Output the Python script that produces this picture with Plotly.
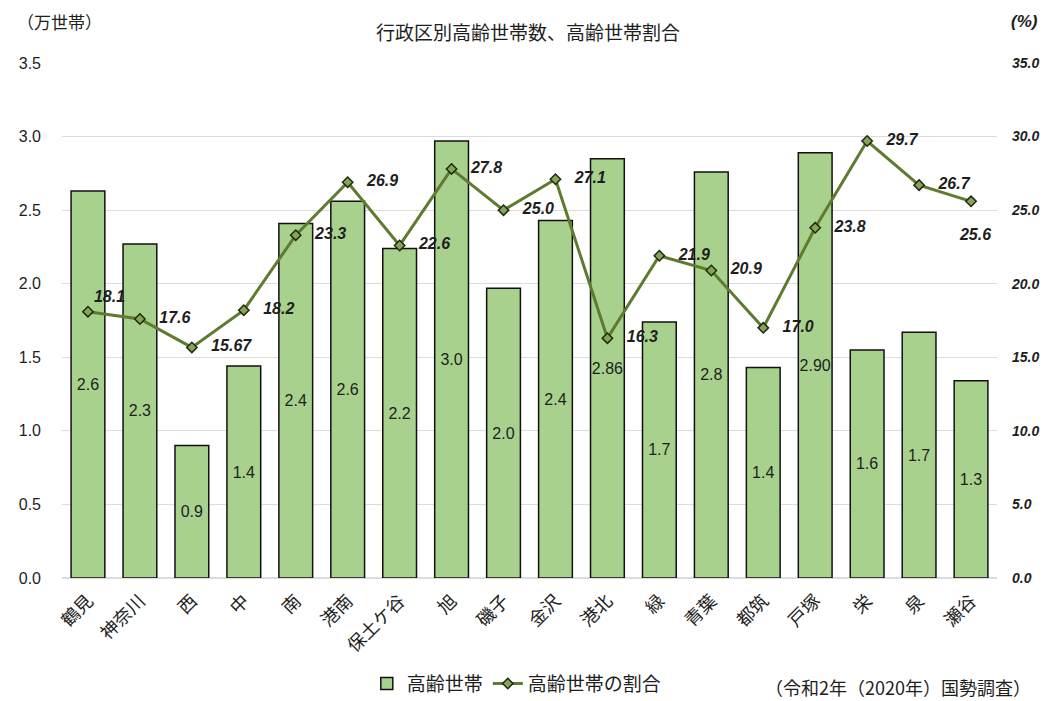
import plotly.graph_objects as go

wards = ["鶴見", "神奈川", "西", "中", "南", "港南", "保土ケ谷", "旭", "磯子", "金沢",
         "港北", "緑", "青葉", "都筑", "戸塚", "栄", "泉", "瀬谷"]
households = [2.63, 2.27, 0.90, 1.44, 2.41, 2.56, 2.24, 2.97, 1.97, 2.43,
              2.85, 1.74, 2.76, 1.43, 2.89, 1.55, 1.67, 1.34]
household_labels = ["2.6", "2.3", "0.9", "1.4", "2.4", "2.6", "2.2", "3.0", "2.0", "2.4",
                    "2.86", "1.7", "2.8", "1.4", "2.90", "1.6", "1.7", "1.3"]
ratio = [18.1, 17.6, 15.67, 18.2, 23.3, 26.9, 22.6, 27.8, 25.0, 27.1,
         16.3, 21.9, 20.9, 17.0, 23.8, 29.7, 26.7, 25.6]
ratio_labels = ["18.1", "17.6", "15.67", "18.2", "23.3", "26.9", "22.6", "27.8", "25.0", "27.1",
                "16.3", "21.9", "20.9", "17.0", "23.8", "29.7", "26.7", "25.6"]
ratio_textpos = ["top right"] + ["middle right"] * 16 + ["bottom center"]
left_ticks = [0.0, 0.5, 1.0, 1.5, 2.0, 2.5, 3.0, 3.5]
right_ticks = [0, 5, 10, 15, 20, 25, 30, 35]

FONT = "Noto Sans CJK JP"
NUMFONT = "Liberation Sans"
INK = "#1e1e1e"

pad = "\u00a0\u00a0\u00a0"
ratio_text = []
for t, p in zip(ratio_labels, ratio_textpos):
    if p == "middle right":
        ratio_text.append(pad + t)
    elif p == "bottom center":
        ratio_text.append("\u00a0<br>\u00a0\u00a0" + t)
    else:
        ratio_text.append(t)

fig = go.Figure()
fig.add_trace(go.Bar(
    x=wards, y=households, name="高齢世帯",
    text=household_labels, textposition="inside", insidetextanchor="middle",
    textangle=0, constraintext="none",
    textfont=dict(family=NUMFONT, size=16, color=INK),
    marker=dict(color="#a9d18e", line=dict(color="#111111", width=1.5)),
    width=0.65, yaxis="y",
))
fig.add_trace(go.Scatter(
    x=wards, y=ratio, name="高齢世帯の割合", yaxis="y2",
    mode="lines+markers+text",
    text=ratio_text, textposition=ratio_textpos,
    textfont=dict(family=NUMFONT, size=16, color=INK, style="italic", weight="bold"),
    line=dict(color="#5e7b2f", width=3),
    marker=dict(symbol="diamond", size=8, color="#87a556",
                line=dict(color="#1f2a10", width=1.5)),
))

# page body has an 8px margin, so the figure is drawn 8px in from the top-left
fig.update_layout(
    width=1040, height=693,
    margin=dict(l=54, r=51, t=55, b=123),
    paper_bgcolor="white", plot_bgcolor="white",
    font=dict(family=FONT, color=INK),
    showlegend=True,
    legend=dict(orientation="h", xref="container", yref="container",
                x=0.345, y=0.025, xanchor="left", yanchor="middle",
                font=dict(size=19, family=FONT, color=INK), traceorder="normal",
                bgcolor="rgba(0,0,0,0)"),
    xaxis=dict(range=[-0.5, 17.5], tickangle=-45,
               tickfont=dict(size=18, family=FONT, color=INK),
               showgrid=False, showline=False, ticks="", automargin=False,
               ticklabelstandoff=8),
    yaxis=dict(range=[0, 3.5], tickvals=left_ticks, tickformat=".1f",
               tickfont=dict(size=16, family=NUMFONT, color=INK),
               showgrid=True, gridcolor="#dcdcdc", gridwidth=1, zeroline=True,
               zerolinecolor="#dcdcdc", ticklabelstandoff=20, automargin=False),
    yaxis2=dict(range=[0, 35], tickvals=right_ticks, tickformat=".1f",
                overlaying="y", side="right", showgrid=False, zeroline=False,
                tickfont=dict(size=14, family=NUMFONT, color=INK,
                              style="italic", weight="bold"),
                ticklabelstandoff=14, automargin=False),
)

fig.add_annotation(text="行政区別高齢世帯数、高齢世帯割合", xref="paper", yref="paper",
                   x=0.498, y=1.062, xanchor="center", yanchor="middle", showarrow=False,
                   font=dict(size=19, family=FONT, color=INK))
fig.add_annotation(text="（万世帯）", xref="paper", yref="paper",
                   x=-0.05, y=1.08, xanchor="left", yanchor="middle", showarrow=False,
                   font=dict(size=17, family=FONT, color=INK))
fig.add_annotation(text="(%)", xref="paper", yref="paper",
                   x=1.046, y=1.08, xanchor="right", yanchor="middle", showarrow=False,
                   font=dict(size=17, family=NUMFONT, color=INK,
                             style="italic", weight="bold"))
fig.add_annotation(text="（令和2年（2020年）国勢調査）", xref="paper", yref="paper",
                   x=1.0385, y=-0.212, xanchor="right", yanchor="middle", showarrow=False,
                   font=dict(size=18, family=FONT, color=INK))

fig.write_html("out.html")
